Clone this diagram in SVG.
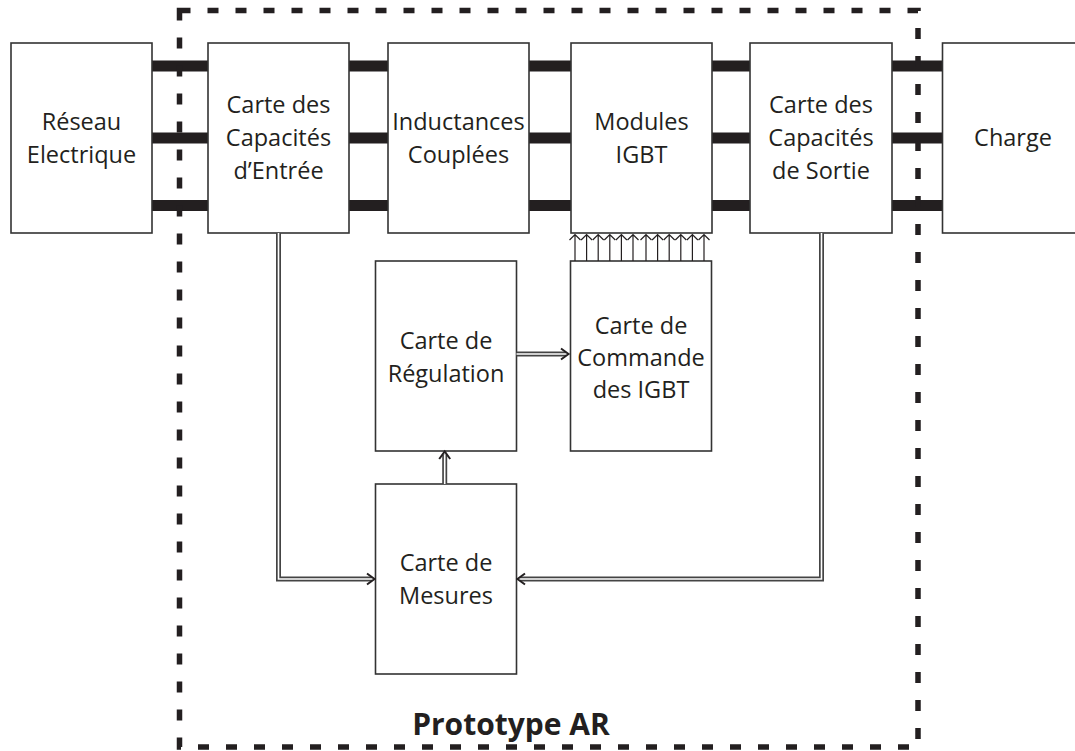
<svg xmlns="http://www.w3.org/2000/svg" width="1075" height="751" viewBox="0 0 1075 751">
<style>
.box{fill:#fff;stroke:#333;stroke-width:1.6}
.bar{fill:#231f20}
.t{font-family:"Open Sans","Liberation Sans",sans-serif;font-size:23.5px;fill:#231f20;text-anchor:middle}
.title{font-family:"Open Sans","Liberation Sans",sans-serif;font-size:30px;font-weight:bold;fill:#231f20;text-anchor:middle}
.dout{fill:none;stroke:#444;stroke-width:5}
.din{fill:none;stroke:#fff;stroke-width:1.6}
.head{fill:none;stroke:#231f20;stroke-width:2}
.thin{fill:none;stroke:#231f20;stroke-width:1.2}
.border{fill:none;stroke:#231f20;stroke-width:5.5;stroke-dasharray:11 17}
</style>
<rect width="1075" height="751" fill="#fff"/>
<g id="bars">
<rect class="bar" x="152" y="60.5" width="56" height="11"/>
<rect class="bar" x="152" y="132.5" width="56" height="11"/>
<rect class="bar" x="152" y="200" width="56" height="11"/>
<rect class="bar" x="349" y="60.5" width="39" height="11"/>
<rect class="bar" x="349" y="132.5" width="39" height="11"/>
<rect class="bar" x="349" y="200" width="39" height="11"/>
<rect class="bar" x="529" y="60.5" width="42" height="11"/>
<rect class="bar" x="529" y="132.5" width="42" height="11"/>
<rect class="bar" x="529" y="200" width="42" height="11"/>
<rect class="bar" x="712" y="60.5" width="38" height="11"/>
<rect class="bar" x="712" y="132.5" width="38" height="11"/>
<rect class="bar" x="712" y="200" width="38" height="11"/>
<rect class="bar" x="892" y="60.5" width="50" height="11"/>
<rect class="bar" x="892" y="132.5" width="50" height="11"/>
<rect class="bar" x="892" y="200" width="50" height="11"/>
</g>
<g id="reseau">
<rect class="box" x="11" y="43" width="141" height="190"/>
<text class="t" x="81.5" y="130">Réseau</text>
<text class="t" x="81.5" y="163">Electrique</text>
</g>
<g id="entree">
<rect class="box" x="208" y="43" width="141" height="190"/>
<text class="t" x="278.5" y="113">Carte des</text>
<text class="t" x="278.5" y="146">Capacités</text>
<text class="t" x="278.5" y="179">d’Entrée</text>
</g>
<g id="inductances">
<rect class="box" x="388" y="43" width="141" height="190"/>
<text class="t" x="458.5" y="130">Inductances</text>
<text class="t" x="458.5" y="163">Couplées</text>
</g>
<g id="modules">
<rect class="box" x="571" y="43" width="141" height="190"/>
<text class="t" x="641.5" y="130">Modules</text>
<text class="t" x="641.5" y="163">IGBT</text>
</g>
<g id="sortie">
<rect class="box" x="750" y="43" width="142" height="190"/>
<text class="t" x="821" y="113">Carte des</text>
<text class="t" x="821" y="146">Capacités</text>
<text class="t" x="821" y="179">de Sortie</text>
</g>
<g id="charge">
<rect class="box" x="942.5" y="43" width="140" height="190"/>
<text class="t" x="1013" y="146">Charge</text>
</g>
<g id="regulation">
<rect class="box" x="375.5" y="261" width="141" height="190"/>
<text class="t" x="446" y="349">Carte de</text>
<text class="t" x="446" y="382">Régulation</text>
</g>
<g id="commande">
<rect class="box" x="570.5" y="261" width="141" height="190"/>
<text class="t" x="641" y="334">Carte de</text>
<text class="t" x="641" y="366">Commande</text>
<text class="t" x="641" y="398">des IGBT</text>
</g>
<g id="mesures">
<rect class="box" x="375.5" y="484" width="141" height="190"/>
<text class="t" x="446" y="571">Carte de</text>
<text class="t" x="446" y="604">Mesures</text>
</g>
<g id="connectors">
<path class="dout" d="M278.5,233 V579 H372"/>
<path class="din" d="M278.5,233 V579 H372"/>
<path class="head" d="M367,573.5 L374.5,579 L367,584.5"/>
<path class="dout" d="M821.5,233 V579 H520"/>
<path class="din" d="M821.5,233 V579 H520"/>
<path class="head" d="M525,573.5 L517.5,579 L525,584.5"/>
<path class="dout" d="M516.5,354 H566"/>
<path class="din" d="M516.5,354 H566"/>
<path class="head" d="M561,348.5 L568.5,354 L561,359.5"/>
<path class="dout" d="M444.7,484 V454.5"/>
<path class="din" d="M444.7,484 V454.5"/>
<path class="head" d="M439.2,459 L444.7,451.5 L450.2,459"/>
<g id="igbt-arrows">
<path class="thin" d="M575,261 V234.5 M569.5,240 L575,234.5 L580.5,240"/>
<path class="thin" d="M586.6,261 V234.5 M581.1,240 L586.6,234.5 L592.1,240"/>
<path class="thin" d="M598.2,261 V234.5 M592.7,240 L598.2,234.5 L603.7,240"/>
<path class="thin" d="M609.8,261 V234.5 M604.3,240 L609.8,234.5 L615.3,240"/>
<path class="thin" d="M621.4,261 V234.5 M615.9,240 L621.4,234.5 L626.9,240"/>
<path class="thin" d="M633,261 V234.5 M627.5,240 L633,234.5 L638.5,240"/>
<path class="thin" d="M646,261 V234.5 M640.5,240 L646,234.5 L651.5,240"/>
<path class="thin" d="M657.6,261 V234.5 M652.1,240 L657.6,234.5 L663.1,240"/>
<path class="thin" d="M669.2,261 V234.5 M663.7,240 L669.2,234.5 L674.7,240"/>
<path class="thin" d="M680.8,261 V234.5 M675.3,240 L680.8,234.5 L686.3,240"/>
<path class="thin" d="M692.4,261 V234.5 M686.9,240 L692.4,234.5 L697.9,240"/>
<path class="thin" d="M704,261 V234.5 M698.5,240 L704,234.5 L709.5,240"/>
</g>
</g>
<g id="prototype">
<rect class="border" x="179.5" y="10.5" width="738.5" height="736.5"/>
<text class="title" x="511" y="735">Prototype AR</text>
</g>
</svg>
